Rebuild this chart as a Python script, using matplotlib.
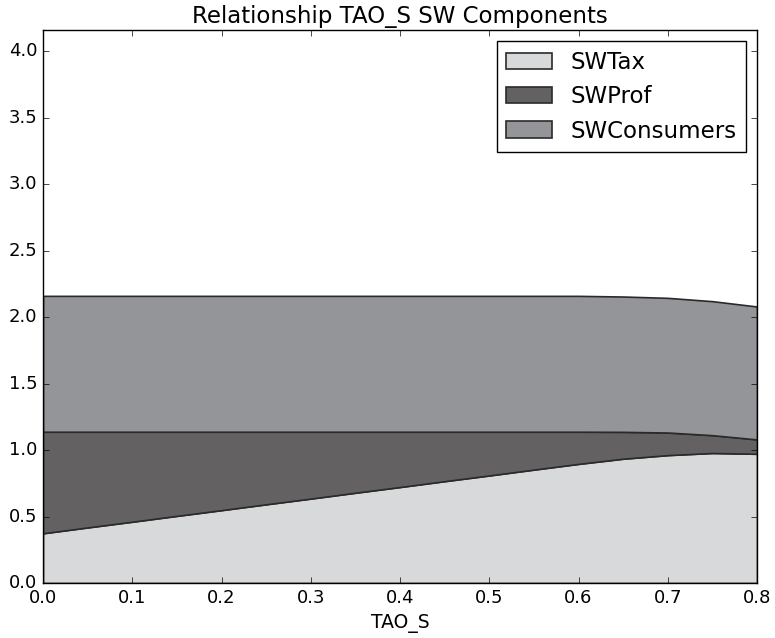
import numpy as np
import matplotlib
matplotlib.use("Agg")
import matplotlib.pyplot as plt

# TAO_S grid and SW components
tao_s = [0.00, 0.05, 0.10, 0.15, 0.20, 0.25, 0.30, 0.35, 0.40,
         0.45, 0.50, 0.55, 0.60, 0.65, 0.70, 0.75, 0.80]
sw_tax = [0.374, 0.418, 0.461, 0.505, 0.548, 0.592, 0.635, 0.679, 0.722,
          0.766, 0.809, 0.853, 0.896, 0.935, 0.962, 0.978, 0.972]
sw_prof = [0.764, 0.720, 0.677, 0.633, 0.590, 0.546, 0.503, 0.459, 0.416,
           0.372, 0.329, 0.285, 0.242, 0.202, 0.170, 0.134, 0.108]
sw_cons = [1.022, 1.022, 1.022, 1.022, 1.022, 1.022, 1.022, 1.022, 1.022,
           1.022, 1.022, 1.022, 1.022, 1.018, 1.013, 1.008, 1.000]
labels = ["SWTax", "SWProf", "SWConsumers"]
colors = ["#d8d9db", "#646163", "#949598"]

plt.style.use("classic")
fig = plt.figure(figsize=(7.75, 6.38), dpi=100)
ax = fig.add_axes([0.0555, 0.0862, 0.9213, 0.8668])

polys = ax.stackplot(tao_s, sw_tax, sw_prof, sw_cons, labels=labels,
                     colors=colors, edgecolor="#2a2a2a", linewidth=1.2)

ax.set_xlim(0, 0.8)
ax.set_ylim(0, 4.16)
ax.set_xticks(np.arange(0, 0.81, 0.1))
ax.set_yticks(np.arange(0, 4.01, 0.5))
ax.tick_params(labelsize=13)
ax.set_xlabel("TAO_S", fontsize=13.5)
ax.set_title("Relationship TAO_S SW Components", fontsize=16.5)
ax.legend(loc="upper right", fontsize=16.5)

fig.savefig("out.png", dpi=100)
